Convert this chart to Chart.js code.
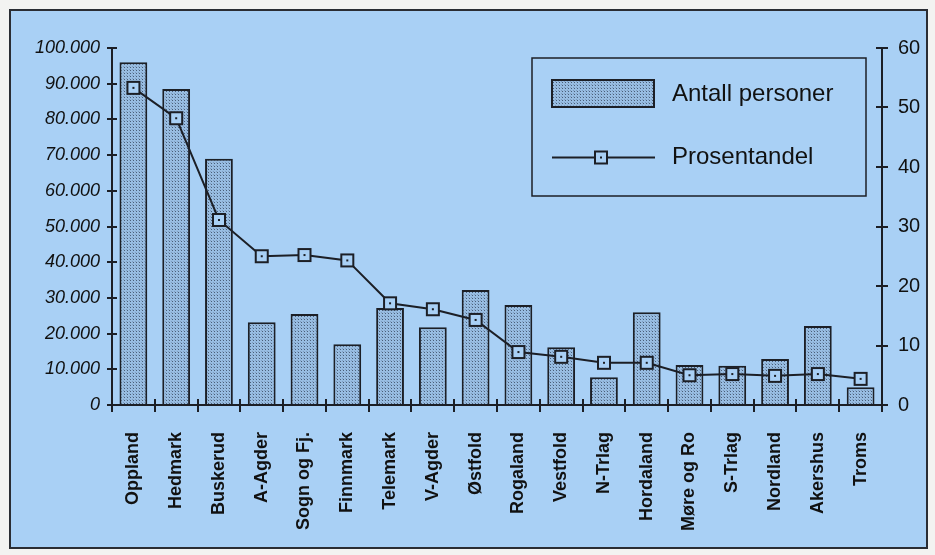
<!DOCTYPE html>
<html><head><meta charset="utf-8">
<script src="https://cdn.jsdelivr.net/npm/chart.js@4/dist/chart.umd.min.js"></script>
<style>html,body{margin:0;padding:0;background:#f3f3f1}canvas{display:block}</style>
</head><body>
<div style="width:935px;height:555px"><canvas id="c" width="935" height="555"></canvas></div>
<script>
const categories = ['Oppland','Hedmark','Buskerud','A-Agder','Sogn og Fj.','Finnmark','Telemark','V-Agder','Østfold','Rogaland','Vestfold','N-Trlag','Hordaland','Møre og Ro','S-Trlag','Nordland','Akershus','Troms'];
const antallPersoner = [96000,88500,69000,23200,25500,17000,27200,21800,32200,28000,16200,7800,26000,11200,11000,12900,22100,5000];
const prosentandel = [53.3,48.2,31.1,25.0,25.2,24.3,17.1,16.1,14.3,8.9,8.1,7.1,7.1,5.0,5.2,4.9,5.2,4.4];
const leftTickLabels = ['0','10.000','20.000','30.000','40.000','50.000','60.000','70.000','80.000','90.000','100.000'];
const rightTickLabels = ['0','10','20','30','40','50','60'];
const seriesNames = ['Antall personer','Prosentandel'];

const BG = '#a9d0f5';
const INK = '#1c1f26';

// stipple pattern for bars
const pc = document.createElement('canvas'); pc.width = 3; pc.height = 3;
const pctx = pc.getContext('2d');
pctx.fillStyle = '#98bde2'; pctx.fillRect(0,0,3,3);
pctx.fillStyle = '#4a5e78'; pctx.fillRect(1,1,1,1);
pctx.fillStyle = '#7e9dc0'; pctx.fillRect(0,0,1,1);
const barPattern = pctx.createPattern(pc, 'repeat');

// square marker with centre dot
const mk = document.createElement('canvas'); mk.width = 16; mk.height = 16;
const mctx = mk.getContext('2d');
mctx.fillStyle = BG; mctx.fillRect(1,1,14,14);
mctx.strokeStyle = INK; mctx.lineWidth = 2; mctx.strokeRect(2,2,12,12);
mctx.fillStyle = INK; mctx.fillRect(7,7,2,2);

const frameAxesLegend = {
  id: 'frameAxesLegend',
  beforeDraw(chart) {
    const ctx = chart.ctx;
    ctx.save();
    ctx.fillStyle = '#f3f3f1'; ctx.fillRect(0,0,chart.width,chart.height);
    ctx.fillStyle = BG; ctx.fillRect(10,10,917,538);
    ctx.strokeStyle = '#2a2d33'; ctx.lineWidth = 2; ctx.strokeRect(10,10,917,538);
    ctx.restore();
  },
  afterDraw(chart) {
    const ctx = chart.ctx;
    const a = chart.chartArea;
    const x = chart.scales.x, y = chart.scales.y, y1 = chart.scales.y1;
    ctx.save();
    ctx.strokeStyle = INK; ctx.lineWidth = 2;
    ctx.beginPath();
    ctx.moveTo(a.left, a.top); ctx.lineTo(a.left, a.bottom + 7);
    ctx.moveTo(a.right, a.top); ctx.lineTo(a.right, a.bottom + 7);
    ctx.moveTo(a.left - 5, a.bottom); ctx.lineTo(a.right + 6, a.bottom);
    ctx.stroke();
    ctx.beginPath();
    y.ticks.forEach(t => { const p = Math.round(y.getPixelForValue(t.value)); ctx.moveTo(a.left - 5, p); ctx.lineTo(a.left + 5, p); });
    y1.ticks.forEach(t => { const p = Math.round(y1.getPixelForValue(t.value)); ctx.moveTo(a.right - 6, p); ctx.lineTo(a.right + 6, p); });
    for (let i = 1; i < categories.length; i++) {
      const p = Math.round((x.getPixelForValue(i - 1) + x.getPixelForValue(i)) / 2);
      ctx.moveTo(p, a.bottom - 6); ctx.lineTo(p, a.bottom + 7);
    }
    ctx.stroke();

    // legend
    const d0 = chart.data.datasets[0], d1 = chart.data.datasets[1];
    ctx.lineWidth = 1.5; ctx.strokeStyle = INK;
    ctx.strokeRect(532, 58, 334, 138);
    ctx.fillStyle = d0.backgroundColor; ctx.fillRect(552, 80, 102, 27);
    ctx.lineWidth = 2; ctx.strokeRect(552, 80, 102, 27);
    ctx.beginPath(); ctx.lineWidth = 2; ctx.moveTo(552, 157.5); ctx.lineTo(655, 157.5); ctx.stroke();
    ctx.drawImage(mk, 601 - 8, 157.5 - 8);
    ctx.fillStyle = '#111';
    ctx.font = '24px "Liberation Sans", Arial, sans-serif';
    ctx.textBaseline = 'middle'; ctx.textAlign = 'left';
    ctx.fillText(d0.label, 672, 94);
    ctx.fillText(d1.label, 672, 157);
    ctx.restore();
  }
};

new Chart(document.getElementById('c'), {
  type: 'bar',
  data: {
    labels: categories,
    datasets: [
      { type: 'bar', label: seriesNames[0], data: antallPersoner, yAxisID: 'y', order: 2,
        backgroundColor: barPattern, borderColor: INK, borderWidth: 2,
        categoryPercentage: 1, barPercentage: 0.65 },
      { type: 'line', label: seriesNames[1], data: prosentandel, yAxisID: 'y1', order: 1,
        borderColor: INK, borderWidth: 2, pointStyle: mk, pointRadius: 8, tension: 0 }
    ]
  },
  options: {
    responsive: false, animation: false, devicePixelRatio: 1,
    layout: { padding: { top: 48, left: 0, right: 0, bottom: 0 } },
    plugins: { legend: { display: false }, tooltip: { enabled: false } },
    scales: {
      x: {
        offset: true,
        grid: { display: false, drawTicks: false }, border: { display: false },
        ticks: { color: '#111', font: { family: '"Liberation Sans", Arial, sans-serif', size: 18, weight: 'bold' },
          minRotation: 90, maxRotation: 90, padding: 27, autoSkip: false },
        afterFit(s) { s.height = 150; }
      },
      y: {
        position: 'left', min: 0, max: 100000,
        grid: { display: false, drawTicks: false }, border: { display: false },
        ticks: { stepSize: 10000, color: '#111', padding: 12,
          font: { family: '"Liberation Sans", Arial, sans-serif', size: 18, style: 'italic' },
          callback: (v, i) => leftTickLabels[i] },
        afterFit(s) { s.width = 112; }
      },
      y1: {
        position: 'right', min: 0, max: 60,
        grid: { display: false, drawTicks: false }, border: { display: false },
        ticks: { stepSize: 10, color: '#111', padding: 16,
          font: { family: '"Liberation Sans", Arial, sans-serif', size: 20 },
          callback: (v, i) => rightTickLabels[i] },
        afterFit(s) { s.width = 53; }
      }
    }
  },
  plugins: [frameAxesLegend]
});
</script>
</body></html>
